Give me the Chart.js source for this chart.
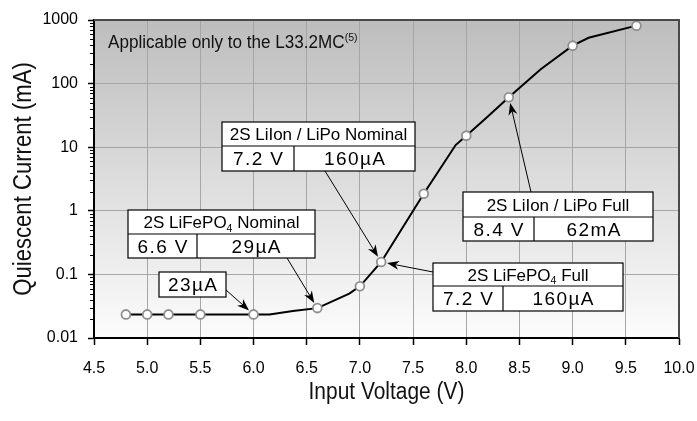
<!DOCTYPE html>
<html><head><meta charset="utf-8">
<script src="https://cdn.jsdelivr.net/npm/chart.js@4/dist/chart.umd.min.js"></script>
<style>html,body{margin:0;padding:0;background:#fff}</style>
</head><body>
<canvas id="c" width="697" height="421"></canvas>
<script>
// ---- data ----
const voltage   = [4.8, 5.0, 5.2, 5.5, 6.0, 6.15, 6.37, 6.6, 6.9, 7.0, 7.2, 7.6, 7.9, 8.0, 8.2, 8.4, 8.7, 9.0, 9.15, 9.6];
const currentMA = [0.0235, 0.0235, 0.0235, 0.0235, 0.0235, 0.0235, 0.0266, 0.0295, 0.05, 0.065, 0.157, 1.85, 10.8, 15.2, 30, 61, 168, 395, 525, 815];
const measured  = [1, 1, 1, 1, 1, 0, 0, 1, 0, 1, 1, 1, 0, 1, 0, 1, 0, 1, 0, 1];
const xTicks = [4.5, 5.0, 5.5, 6.0, 6.5, 7.0, 7.5, 8.0, 8.5, 9.0, 9.5, 10.0];
const yTicks = [0.01, 0.1, 1, 10, 100, 1000];
const xTitle = 'Input Voltage (V)';
const yTitle = 'Quiescent Current (mA)';
const noteText = 'Applicable only to the L33.2MC';
const noteSup = '(5)';

const FONT = "'Liberation Sans', Arial, Helvetica, sans-serif";

// callout boxes: [left, top, width, headH, rowH], split = divider offset
const callouts = [
  {box:[222,122,193,24,25], split:72, head:[['2S LiIon / LiPo Nominal',0]], cells:['7.2 V','160µA'], tail:[325,171], at:7.2},
  {box:[128,210,187,24,24], split:69, head:[['2S LiFePO',0],['4',1],[' Nominal',0]], cells:['6.6 V','29µA'], tail:[287,258], at:6.6},
  {box:[159,272,67,25,0], split:0, head:[], cells:['23µA'], tail:[226,290], at:6.0},
  {box:[463,192,190,25,24], split:71, head:[['2S LiIon / LiPo Full',0]], cells:['8.4 V','62mA'], tail:[531,192], at:8.4},
  {box:[433,263,190,23,25], split:70, head:[['2S LiFePO',0],['4',1],[' Full',0]], cells:['7.2 V','160µA'], tail:[433,272], at:7.2}
];

function drawRich(ctx, parts, x, cy, size, spacing, align, sx) {
  sx = sx || 1;
  const items = []; let total = 0;
  parts.forEach(([t,k]) => {
    const fs = k ? size*0.62 : size;
    ctx.font = fs + 'px ' + FONT;
    if (spacing) {
      for (const ch of t) { const w = ctx.measureText(ch).width; items.push({t:ch,w,fs,k}); total += w + spacing; }
    } else {
      const w = ctx.measureText(t).width; items.push({t,w,fs,k}); total += w;
    }
  });
  if (spacing) total -= spacing;
  ctx.save();
  const startX = align === 'left' ? x : x - total*sx/2;
  ctx.translate(startX, cy + size*0.36);
  ctx.scale(sx, 1);
  ctx.textBaseline = 'alphabetic';
  ctx.textAlign = 'left';
  let px = 0;
  items.forEach(it => {
    ctx.font = it.fs + 'px ' + FONT;
    const dy = it.k === 1 ? size*0.2 : it.k === 2 ? -size*0.42 : 0;
    ctx.fillText(it.t, px, dy);
    px += it.w + spacing;
  });
  ctx.restore();
  return total*sx;
}

function arrow(ctx, x0, y0, x1, y1) {
  const dx = x1-x0, dy = y1-y0, L = Math.hypot(dx,dy), ux = dx/L, uy = dy/L;
  const hl = 12, hw = 4.5;
  const bx = x1 - ux*hl, by = y1 - uy*hl;
  ctx.beginPath(); ctx.moveTo(x0,y0); ctx.lineTo(x1-ux*6, y1-uy*6); ctx.stroke();
  ctx.beginPath();
  ctx.moveTo(x1,y1);
  ctx.lineTo(bx - uy*hw, by + ux*hw);
  ctx.lineTo(x1 - ux*hl*0.7, y1 - uy*hl*0.7);
  ctx.lineTo(bx + uy*hw, by - ux*hw);
  ctx.closePath(); ctx.fill();
}

const decor = {
  id:'decor',
  beforeDraw(chart) {
    const {ctx, chartArea:a} = chart;
    const g = ctx.createLinearGradient(0, a.top, 0, a.bottom);
    g.addColorStop(0, '#bdbdbd');
    g.addColorStop(1, '#fcfcfc');
    ctx.save(); ctx.fillStyle = g; ctx.fillRect(a.left, a.top, a.right-a.left, a.bottom-a.top); ctx.restore();
  },
  afterDraw(chart) {
    const {ctx, chartArea:a, scales:{x, y}} = chart;
    ctx.save();
    // top/right frame
    ctx.strokeStyle = '#4a4a4a'; ctx.lineWidth = 2;
    ctx.beginPath(); ctx.moveTo(a.left, a.top); ctx.lineTo(a.right, a.top); ctx.lineTo(a.right, a.bottom); ctx.stroke();
    // minor log ticks
    ctx.strokeStyle = '#000'; ctx.lineWidth = 1;
    for (let d = 0; d < yTicks.length-1; d++) {
      for (let m = 2; m <= 9; m++) {
        const py = Math.round(y.getPixelForValue(yTicks[d]*m)) + 0.5;
        ctx.beginPath(); ctx.moveTo(a.left-4, py); ctx.lineTo(a.left, py); ctx.stroke();
      }
    }
    // note
    ctx.fillStyle = '#111';
    drawRich(ctx, [[noteText,0],[noteSup,2]], a.left+14, 42, 18, 0, 'left', 0.95);
    // callouts
    callouts.forEach(c => {
      const [l,t,w,h1,h2] = c.box;
      ctx.fillStyle = '#fff'; ctx.strokeStyle = '#000'; ctx.lineWidth = 1.2;
      ctx.fillRect(l, t, w, h1+h2); ctx.strokeRect(l, t, w, h1+h2);
      ctx.fillStyle = '#000';
      if (c.head.length) {
        ctx.beginPath(); ctx.moveTo(l, t+h1); ctx.lineTo(l+w, t+h1); ctx.stroke();
        ctx.beginPath(); ctx.moveTo(l+c.split, t+h1); ctx.lineTo(l+c.split, t+h1+h2); ctx.stroke();
        drawRich(ctx, c.head, l+w/2, t+h1/2, 17, 0, 'center');
        drawRich(ctx, [[c.cells[0],0]], l+c.split/2, t+h1+h2/2, 19, 1.4, 'center');
        drawRich(ctx, [[c.cells[1],0]], l+c.split+(w-c.split)/2, t+h1+h2/2, 19, 1.4, 'center');
      } else {
        drawRich(ctx, [[c.cells[0],0]], l+w/2, t+h1/2, 19, 1.4, 'center');
      }
      const i = voltage.indexOf(c.at);
      const tx = x.getPixelForValue(voltage[i]), ty = y.getPixelForValue(currentMA[i]);
      const dx = tx - c.tail[0], dy = ty - c.tail[1], L = Math.hypot(dx,dy);
      ctx.strokeStyle = '#000'; ctx.lineWidth = 1;
      arrow(ctx, c.tail[0], c.tail[1], tx - dx/L*6, ty - dy/L*6);
    });
    // axis titles
    ctx.fillStyle = '#111';
    drawRich(ctx, [[xTitle,0]], (a.left+a.right)/2, 391, 23, 0, 'center', 0.91);
    ctx.save();
    ctx.translate(22, (a.top+a.bottom)/2);
    ctx.rotate(-Math.PI/2);
    drawRich(ctx, [[yTitle,0]], 0, 0, 25, 0, 'center', 0.885);
    ctx.restore();
    ctx.restore();
  }
};

new Chart(document.getElementById('c'), {
  type: 'line',
  data: {
    datasets: [{
      data: voltage.map((v,i) => ({x:v, y:currentMA[i]})),
      borderColor: '#000', borderWidth: 2, tension: 0, fill: false,
      pointRadius: c => measured[c.dataIndex] ? 4.4 : 0,
      pointHoverRadius: c => measured[c.dataIndex] ? 4.4 : 0,
      pointBackgroundColor: '#fff', pointBorderColor: '#8f8f8f', pointBorderWidth: 1.8
    }]
  },
  options: {
    responsive: false, animation: false, events: [],
    layout: {padding: {top: 20, right: 18, left: 0, bottom: 0}},
    plugins: {legend: {display: false}, tooltip: {enabled: false}},
    scales: {
      x: {
        type: 'linear', min: 4.5, max: 10,
        afterBuildTicks: s => { s.ticks = xTicks.map(v => ({value: v})); },
        afterFit: s => { s.height = 83; s.paddingLeft = 0; s.paddingRight = 0; },
        ticks: {callback: v => Number(v).toFixed(1), font: {size: 16, family: FONT}, color: '#000', padding: 14, maxRotation: 0, autoSkip: false},
        grid: {color: '#a6a6a6', lineWidth: 1, tickColor: '#000', tickLength: 7, tickWidth: 1.5},
        border: {color: '#000', width: 2}
      },
      y: {
        type: 'logarithmic', min: 0.01, max: 1000,
        afterBuildTicks: s => { s.ticks = yTicks.map(v => ({value: v})); },
        afterFit: s => { s.width = 94; s.paddingTop = 0; s.paddingBottom = 0; },
        ticks: {callback: v => String(v), font: {size: 16, family: FONT}, color: '#000', padding: 10, autoSkip: false},
        grid: {color: '#a6a6a6', lineWidth: 1, tickColor: '#000', tickLength: 6, tickWidth: 1.5},
        border: {color: '#000', width: 2}
      }
    }
  },
  plugins: [decor]
});
</script>
</body></html>
